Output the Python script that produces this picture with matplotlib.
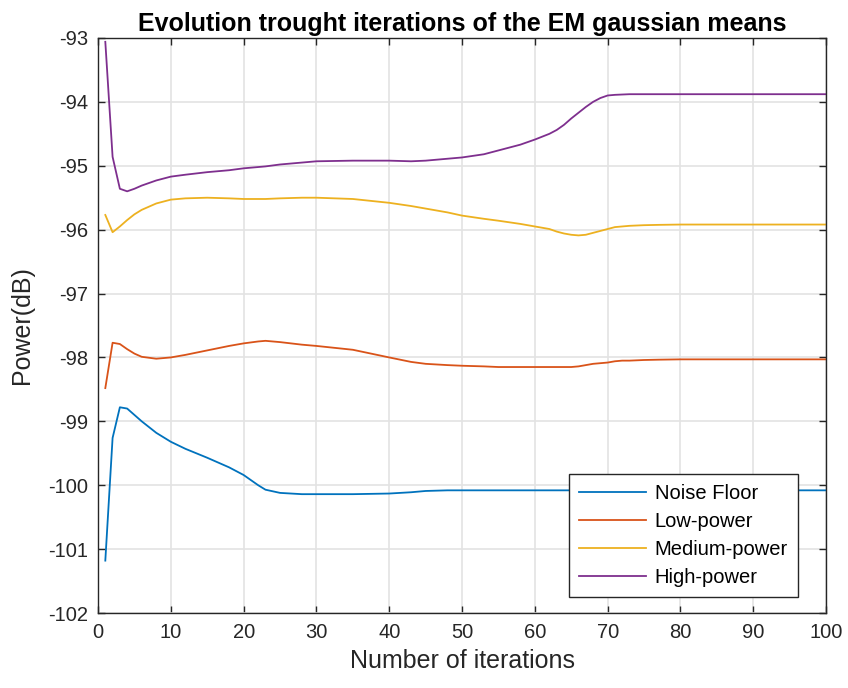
import matplotlib.pyplot as plt

plt.rcParams['font.family'] = ['Liberation Sans', 'DejaVu Sans']
plt.rcParams['axes.unicode_minus'] = False

iters = [1, 2, 3, 4, 5, 6, 8, 10, 12, 15, 18, 20, 22, 23, 25, 28, 30, 35, 40, 43,
         45, 48, 50, 53, 55, 58, 60, 62, 63, 64, 65, 66, 67, 68, 69, 70, 71, 72, 73, 75,
         77, 80, 90, 100]

noise_floor = [-101.18, -99.26, -98.78, -98.80, -98.90, -99.00, -99.18, -99.32, -99.43, -99.57,
               -99.72, -99.84, -100.00, -100.07, -100.12, -100.14, -100.14, -100.14, -100.13, -100.11,
               -100.09, -100.08, -100.08, -100.08, -100.08, -100.08, -100.08, -100.08, -100.08, -100.08,
               -100.08, -100.08, -100.08, -100.08, -100.08, -100.08, -100.08, -100.08, -100.08, -100.08,
               -100.08, -100.08, -100.08, -100.08]

low_power = [-98.48, -97.77, -97.79, -97.87, -97.94, -97.99, -98.02, -98.00, -97.96, -97.89,
             -97.82, -97.78, -97.75, -97.74, -97.76, -97.80, -97.82, -97.88, -98.00, -98.07,
             -98.10, -98.12, -98.13, -98.14, -98.15, -98.15, -98.15, -98.15, -98.15, -98.15,
             -98.15, -98.14, -98.12, -98.10, -98.09, -98.08, -98.06, -98.05, -98.05, -98.04,
             -98.035, -98.03, -98.03, -98.03]

medium_power = [-95.77, -96.04, -95.95, -95.85, -95.76, -95.69, -95.59, -95.53, -95.51, -95.50,
                -95.51, -95.52, -95.52, -95.52, -95.51, -95.50, -95.50, -95.52, -95.58, -95.63,
                -95.67, -95.73, -95.78, -95.83, -95.86, -95.91, -95.95, -95.99, -96.03, -96.06,
                -96.08, -96.09, -96.08, -96.05, -96.02, -95.99, -95.96, -95.95, -95.94, -95.93,
                -95.925, -95.92, -95.92, -95.92]

high_power = [-93.06, -94.86, -95.36, -95.40, -95.36, -95.31, -95.23, -95.17, -95.14, -95.10,
              -95.07, -95.04, -95.02, -95.01, -94.98, -94.95, -94.93, -94.92, -94.92, -94.93,
              -94.92, -94.89, -94.87, -94.82, -94.76, -94.67, -94.59, -94.50, -94.44, -94.36,
              -94.26, -94.17, -94.08, -94.00, -93.94, -93.90, -93.89, -93.885, -93.88, -93.88,
              -93.88, -93.88, -93.88, -93.88]

labels = ['Noise Floor', 'Low-power', 'Medium-power', 'High-power']
colors = ['#0072BD', '#D95319', '#EDB120', '#7E2F8E']

fig = plt.figure(figsize=(8.48, 6.88), dpi=100)
ax = fig.add_axes([0.1156, 0.109, 0.8585, 0.8358])

for series, label, color in zip([noise_floor, low_power, medium_power, high_power], labels, colors):
    ax.plot(iters, series, color=color, linewidth=1.3, label=label)

ax.set_xlim(0, 100)
ax.set_ylim(-102, -93)
ax.set_xticks(range(0, 101, 10))
ax.set_yticks(range(-102, -92))
ax.grid(True, color='#e3e3e3', linewidth=1.2)
ax.set_axisbelow(True)

ax.tick_params(direction='in', top=True, right=True, length=5, width=1,
               labelsize=14.5, colors='#262626', pad=7)
for sp in ax.spines.values():
    sp.set_color('#262626')
    sp.set_linewidth(1)

ax.set_xlabel('Number of iterations', fontsize=18, color='#262626', labelpad=5)
ax.set_ylabel('Power(dB)', fontsize=18, color='#262626', labelpad=10)
ax.set_title('Evolution trought iterations of the EM gaussian means',
             fontsize=18, fontweight='bold', pad=5)

leg = ax.legend(loc='lower right', bbox_to_anchor=(0.9615, 0.028), borderaxespad=0,
                fontsize=14.5, fancybox=False, framealpha=1, edgecolor='#262626',
                borderpad=0.5, handlelength=3.3, handletextpad=0.45, labelspacing=0.45)
leg.get_frame().set_linewidth(1)

fig.savefig('out.png', dpi=100)
